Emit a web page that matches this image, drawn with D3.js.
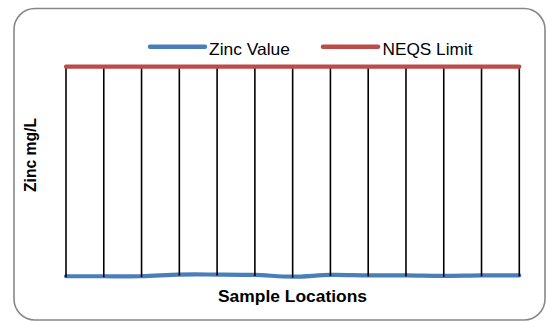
<!DOCTYPE html>
<html>
<head>
<meta charset="utf-8">
<script src="https://cdn.jsdelivr.net/npm/d3@7"></script>
<style>
  html, body { margin: 0; padding: 0; background: #fff; }
  svg { display: block; font-family: "Liberation Sans", Arial, sans-serif; }
</style>
</head>
<body>
<svg id="chart" width="546" height="321"></svg>
<script>
// ---- data ----
const locations = ["S1","S2","S3","S4","S5","S6","S7","S8","S9","S10","S11","S12","S13"];
const zincValues = [0.03, 0.03, 0.03, 0.07, 0.07, 0.06, 0.02, 0.06, 0.05, 0.05, 0.04, 0.05, 0.05];
const neqsLimit = [5, 5, 5, 5, 5, 5, 5, 5, 5, 5, 5, 5, 5];
const seriesNames = ["Zinc Value", "NEQS Limit"];
const yDomain = [0, 5];

const svg = d3.select("#chart");
const blue = "#4A7EBB", red = "#BE4B48";

// outer rounded border
svg.append("rect")
  .attr("x", 14).attr("y", 8.5).attr("width", 531).attr("height", 311.5)
  .attr("rx", 21).attr("ry", 21)
  .attr("fill", "#fff").attr("stroke", "#878787").attr("stroke-width", 1.6);

const x = d3.scalePoint().domain(locations).range([66, 519.3]);
const y = d3.scaleLinear().domain(yDomain).range([277.5, 66.7]);

const zinc = locations.map((c, i) => ({c, v: zincValues[i]}));
const neqs = locations.map((c, i) => ({c, v: neqsLimit[i]}));

// zinc line (smoothed)
svg.append("path").datum(zinc)
  .attr("fill", "none").attr("stroke", blue).attr("stroke-width", 4.2)
  .attr("stroke-linecap", "round")
  .attr("d", d3.line().x(d => x(d.c)).y(d => y(d.v)).curve(d3.curveCatmullRom.alpha(0.5)));

// high-low lines
svg.append("g").selectAll("line").data(locations).join("line")
  .attr("x1", (c) => x(c)).attr("x2", (c) => x(c))
  .attr("y1", (c, i) => y(neqsLimit[i])).attr("y2", (c, i) => y(zincValues[i]) + 1)
  .attr("stroke", "#000").attr("stroke-width", 1.6);

// NEQS line
svg.append("path").datum(neqs)
  .attr("fill", "none").attr("stroke", red).attr("stroke-width", 4.2)
  .attr("stroke-linecap", "round")
  .attr("d", d3.line().x(d => x(d.c)).y(d => y(d.v)));

// legend
const legend = [
  {name: seriesNames[0], color: blue, x0: 150, x1: 205, tx: 209, tl: 81},
  {name: seriesNames[1], color: red, x0: 323, x1: 378, tx: 382.5, tl: 90}
];
const lg = svg.append("g");
legend.forEach(l => {
  lg.append("line").attr("x1", l.x0).attr("x2", l.x1).attr("y1", 46.7).attr("y2", 46.7)
    .attr("stroke", l.color).attr("stroke-width", 4.5).attr("stroke-linecap", "round");
  lg.append("text").attr("x", l.tx).attr("y", 54.5).text(l.name)
    .attr("font-size", 16.5).attr("fill", "#000")
    .attr("textLength", l.tl).attr("lengthAdjust", "spacingAndGlyphs");
});

// axis titles
svg.append("text").attr("x", 292.5).attr("y", 302)
  .attr("text-anchor", "middle").attr("font-size", 17).attr("font-weight", "bold")
  .attr("textLength", 149).attr("lengthAdjust", "spacingAndGlyphs")
  .text("Sample Locations");

svg.append("text").attr("transform", "translate(35.5,155) rotate(-90)")
  .attr("text-anchor", "middle").attr("font-size", 16).attr("font-weight", "bold")
  .attr("textLength", 74).attr("lengthAdjust", "spacingAndGlyphs")
  .text("Zinc mg/L");
</script>
</body>
</html>
